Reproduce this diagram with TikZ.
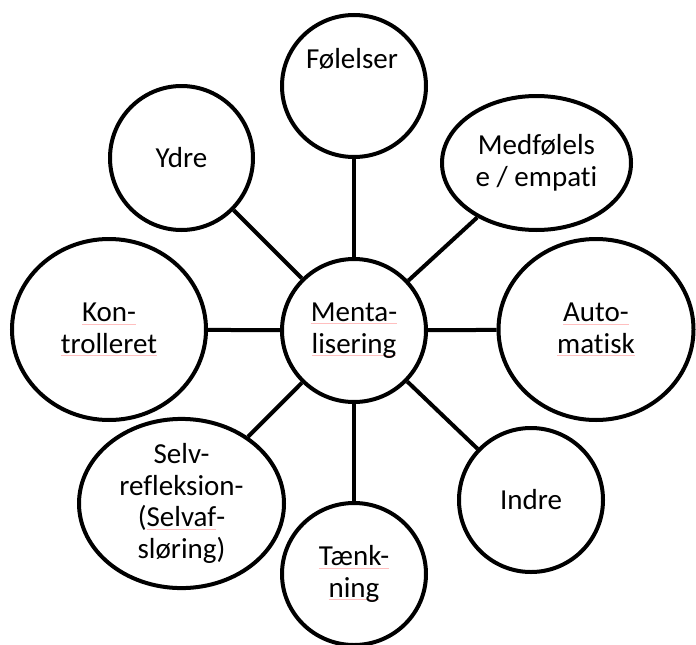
\documentclass[tikz,border=0pt]{standalone}
\usepackage{fontspec}
\setmainfont{Carlito}[Ligatures={NoCommon}]
\usetikzlibrary{shapes.geometric}
\newcommand\squ[1]{\sbox0{#1}\rlap{\textcolor{red!25}{\rule[-2.5pt]{\wd0}{0.8pt}}}\usebox0}
\begin{document}
\begin{tikzpicture}[x=1pt,y=-1pt,
  bubble/.style={ellipse, draw=black, line width=4pt, fill=white, inner sep=0pt,
    align=center, font=\fontsize{29}{31.5}\selectfont},
  txt/.style={inner sep=0pt, align=center, font=\fontsize{29}{31.5}\selectfont},
  conn/.style={line width=4pt}]
\useasboundingbox (0,0) rectangle (696,645);
\fill[white] (0,0) rectangle (696,645);
\node[bubble, minimum width=144pt, minimum height=143pt] (ment) at (354,330.5) {\squ{Menta-}\\\squ{lisering}};
\node[bubble, minimum width=144pt, minimum height=142pt] (fol) at (354,86) {};
\node[txt, anchor=base] (tfol) at (352,68) {Følelser};
\node[bubble, minimum width=143pt, minimum height=144pt] (ydre) at (181.5,158) {Ydre};
\node[bubble, minimum width=189pt, minimum height=134pt] (medf) at (536.5,163) {Medfølels\\e / empati};
\node[bubble, minimum width=195pt, minimum height=181pt] (auto) at (596,329.5) {\squ{Auto-}\\\squ{matisk}};
\node[bubble, minimum width=194pt, minimum height=181pt] (kont) at (109,329.5) {\squ{Kon-}\\\squ{trolleret}};
\node[bubble, minimum width=205pt, minimum height=145pt] (selv) at (181.5,503.5) {Selv-\\refleksion-\\(\squ{Selvaf}-\\sløring)};
\node[bubble, minimum width=144pt, minimum height=142pt] (taenk) at (354,574) {\squ{Tænk-}\\\squ{ning}};
\node[bubble, minimum width=144pt, minimum height=144pt] (indre) at (531,500) {Indre};
\draw[conn] (ment) -- (fol);
\draw[conn] (ment) -- (ydre);
\draw[conn] (ment) -- (medf);
\draw[conn] (ment) -- (auto);
\draw[conn] (ment) -- (kont);
\draw[conn] (ment) -- (selv);
\draw[conn] (ment) -- (taenk);
\draw[conn] (ment) -- (indre);
\end{tikzpicture}
\end{document}
